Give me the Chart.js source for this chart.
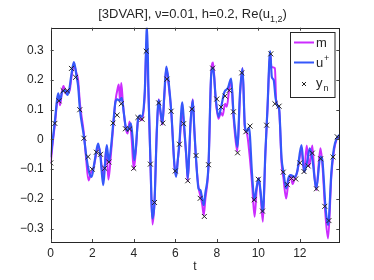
<!DOCTYPE html>
<html><head><meta charset="utf-8">
<script src="https://cdn.jsdelivr.net/npm/chart.js@4.4.1/dist/chart.umd.min.js"></script>
<style>html,body{margin:0;padding:0;background:#fff}#c{display:block}</style>
</head><body>
<canvas id="c" width="374" height="280"></canvas>
<script>
// u+ (analysis) samples
const tU=[0,0.1,0.2,0.3,0.36,0.45,0.55,0.7,0.8,0.9,1.0,1.12,1.25,1.32,1.41,1.6,1.73,1.85,1.97,2.1,2.22,2.29,2.4,2.53,2.62,2.7,2.8,2.9,3.02,3.12,3.21,3.32,3.42,3.52,3.61,3.7,3.86,3.95,4.02,4.1,4.21,4.3,4.4,4.53,4.64,4.71,4.8,4.9,5.0,5.11,5.2,5.3,5.38,5.47,5.57,5.7,5.81,5.96,6.04,6.12,6.2,6.34,6.42,6.54,6.6,6.67,6.73,6.84,6.92,6.99,7.12,7.21,7.3,7.37,7.45,7.6,7.73,7.82,7.95,8.08,8.21,8.37,8.53,8.69,8.8,8.9,8.99,9.12,9.24,9.35,9.44,9.55,9.7,9.81,9.92,10.02,10.1,10.22,10.34,10.44,10.57,10.65,10.74,10.83,10.95,11.0,11.12,11.21,11.34,11.45,11.55,11.76,11.87,12.08,12.21,12.35,12.48,12.62,12.79,12.99,13.07,13.24,13.36,13.52,13.64,13.77,13.9];
const uPlus=[-0.06,0.0,0.06,0.13,0.155,0.13,0.16,0.165,0.15,0.17,0.22,0.26,0.21,0.18,0.10,0.01,-0.064,-0.11,-0.126,-0.08,-0.03,-0.014,-0.06,-0.154,-0.08,-0.019,-0.075,-0.03,0.06,0.127,0.135,0.13,0.14,0.09,0.043,0.03,0.054,0.0,-0.07,-0.03,0.07,0.08,0.076,0.16,0.385,0.16,-0.064,-0.266,-0.21,0.026,0.132,0.09,0.054,0.15,0.245,0.18,0.091,-0.086,-0.126,-0.07,-0.008,0.125,0.054,-0.064,-0.131,-0.05,0.048,0.132,0.03,-0.053,-0.165,-0.171,-0.2,-0.221,-0.18,-0.086,0.217,0.241,0.138,0.076,0.11,0.16,0.172,0.205,0.093,0.02,-0.025,0.16,0.239,0.048,0.026,0.04,-0.12,-0.204,-0.16,-0.131,-0.17,-0.244,-0.042,0.104,0.297,0.21,0.2,0.14,0.11,0.104,-0.064,-0.109,-0.165,-0.13,-0.12,-0.126,-0.109,-0.019,-0.109,-0.075,-0.03,-0.075,-0.165,-0.058,-0.064,-0.232,-0.288,-0.109,-0.03,0.003,0.015];
// m (estimate) samples
const tM=[0,0.1,0.2,0.3,0.36,0.45,0.55,0.62,0.72,0.82,0.9,1.0,1.12,1.25,1.32,1.41,1.6,1.7,1.82,1.95,2.05,2.22,2.3,2.4,2.5,2.6,2.68,2.78,2.9,3.02,3.12,3.22,3.28,3.34,3.4,3.48,3.61,3.7,3.8,3.9,4.0,4.1,4.21,4.3,4.4,4.53,4.62,4.71,4.8,4.9,5.0,5.11,5.2,5.3,5.38,5.47,5.57,5.7,5.81,5.96,6.04,6.12,6.2,6.34,6.42,6.54,6.6,6.67,6.73,6.84,6.92,6.99,7.12,7.21,7.3,7.37,7.45,7.6,7.73,7.82,7.95,8.08,8.2,8.28,8.4,8.48,8.6,8.69,8.8,8.9,8.99,9.12,9.24,9.35,9.45,9.57,9.7,9.82,9.92,10.02,10.1,10.22,10.34,10.44,10.57,10.63,10.8,10.86,11.0,11.12,11.21,11.34,11.45,11.55,11.65,11.76,11.87,12.08,12.21,12.33,12.45,12.6,12.7,12.79,12.99,13.07,13.24,13.36,13.52,13.64,13.77,13.9];
const mVals=[-0.08,-0.01,0.05,0.12,0.15,0.115,0.165,0.18,0.155,0.165,0.16,0.21,0.25,0.22,0.2,0.12,0.02,-0.06,-0.138,-0.11,-0.1,-0.04,-0.025,-0.05,-0.12,-0.09,-0.03,-0.135,-0.05,0.05,0.13,0.17,0.185,0.13,0.19,0.12,0.04,0.02,0.06,0.0,-0.1,-0.04,0.065,0.07,0.065,0.15,0.33,0.15,-0.07,-0.286,-0.21,0.03,0.135,0.08,0.05,0.14,0.24,0.17,0.09,-0.09,-0.12,-0.07,-0.02,0.1,0.04,-0.07,-0.14,-0.05,0.05,0.135,0.03,-0.06,-0.16,-0.19,-0.22,-0.255,-0.2,-0.09,0.22,0.259,0.13,0.07,0.09,0.08,0.12,0.11,0.17,0.2,0.08,0.0,-0.04,0.15,0.24,0.04,0.02,-0.047,-0.15,-0.26,-0.17,-0.13,-0.18,-0.277,-0.05,0.1,0.29,0.244,0.24,0.13,0.1,-0.08,-0.13,-0.199,-0.14,-0.12,-0.15,-0.13,-0.11,-0.04,-0.11,-0.02,-0.09,-0.02,-0.12,-0.17,-0.03,-0.07,-0.26,-0.333,-0.12,-0.04,0.0,0.01];
// observations y_n
const tObs=[0,0.2,0.4,0.6,0.8,1.0,1.2,1.4,1.6,1.8,2.0,2.2,2.4,2.6,2.8,3.0,3.2,3.4,3.6,3.8,4.0,4.2,4.4,4.6,4.8,5.0,5.2,5.4,5.6,5.8,6.0,6.2,6.4,6.6,6.8,7.0,7.2,7.4,7.6,7.8,8.0,8.2,8.4,8.6,8.8,9.0,9.2,9.4,9.6,9.8,10.0,10.2,10.4,10.6,10.8,11.0,11.2,11.4,11.6,11.8,12.0,12.2,12.4,12.6,12.8,13.0,13.2,13.4,13.6,13.8];
const yObs=[-0.079,0.054,0.130,0.164,0.164,0.239,0.209,0.100,0.004,-0.058,-0.100,-0.043,-0.050,-0.097,-0.076,0.055,0.082,0.120,0.036,0.035,-0.097,0.074,0.068,0.297,-0.083,-0.212,0.123,0.055,0.203,0.095,-0.106,-0.016,0.053,-0.139,0.102,-0.054,-0.198,-0.259,-0.085,0.240,0.136,0.109,0.146,0.165,0.093,-0.045,0.224,0.026,0.045,-0.203,-0.134,-0.241,0.048,0.288,0.120,0.112,-0.110,-0.152,-0.131,-0.133,-0.079,-0.108,-0.089,-0.046,-0.166,-0.065,-0.225,-0.273,-0.059,0.009];
const xTicks=[0,2,4,6,8,10,12];
const yTicks=[-0.3,-0.2,-0.1,0,0.1,0.2,0.3];
const xRange=[0,13.9];
const yRange=[-0.345,0.376];

const FONT='"Liberation Sans", Arial, Helvetica, sans-serif';
const MAG='#cc2cff', BLU='#3557fa', AX='#262626';
const pts=(xs,ys)=>xs.map((x,i)=>({x:x,y:ys[i]}));
const fmt=v=>{if(Math.abs(v)<1e-9)return '0';return (v<0?'\u2212':'')+Math.abs(v).toFixed(1);};

const deco={
  id:'deco',
  afterDraw(chart){
    const ctx=chart.ctx, a=chart.chartArea, xs=chart.scales.x, ys=chart.scales.y;
    ctx.save();
    ctx.strokeStyle=AX; ctx.lineWidth=1;
    ctx.strokeRect(Math.round(a.left)+0.5,Math.round(a.top)+0.5,Math.round(a.right)-Math.round(a.left),Math.round(a.bottom)-Math.round(a.top));
    ctx.strokeStyle='#444'; ctx.beginPath();
    xTicks.forEach(v=>{const p=Math.round(xs.getPixelForValue(v))+0.5;
      ctx.moveTo(p,a.bottom);ctx.lineTo(p,a.bottom-3);ctx.moveTo(p,a.top);ctx.lineTo(p,a.top+3);});
    yTicks.forEach(v=>{const p=Math.round(ys.getPixelForValue(v))+0.5;
      ctx.moveTo(a.left,p);ctx.lineTo(a.left+3,p);ctx.moveTo(a.right,p);ctx.lineTo(a.right-3,p);});
    ctx.stroke();
    ctx.fillStyle=AX; ctx.font='12px '+FONT; ctx.textAlign='center'; ctx.textBaseline='alphabetic';
    ctx.fillText('t',(a.left+a.right)/2,270);
    const main='[3DVAR], \u03BD=0.01, h=0.2, Re(u', sub='1,2', end=')';
    ctx.textAlign='left';
    ctx.font='13px '+FONT; const w1=ctx.measureText(main).width, w3=ctx.measureText(end).width;
    ctx.font='9px '+FONT; const w2=ctx.measureText(sub).width;
    let x0=192.5-(w1+w2+w3)/2;
    ctx.font='13px '+FONT; ctx.fillText(main,x0,18);
    ctx.font='9px '+FONT; ctx.fillText(sub,x0+w1,22);
    ctx.font='13px '+FONT; ctx.fillText(end,x0+w1+w2,18);
    const L={l:290,t:32,r:334.5,b:97};
    ctx.fillStyle='#fff'; ctx.fillRect(L.l,L.t,L.r-L.l,L.b-L.t);
    ctx.strokeStyle=AX; ctx.lineWidth=1; ctx.strokeRect(L.l+0.5,L.t+0.5,L.r-L.l,L.b-L.t);
    ctx.lineWidth=2;
    ctx.strokeStyle=MAG; ctx.beginPath(); ctx.moveTo(294,42.5); ctx.lineTo(314,42.5); ctx.stroke();
    ctx.strokeStyle=BLU; ctx.beginPath(); ctx.moveTo(294,62.5); ctx.lineTo(314,62.5); ctx.stroke();
    ctx.strokeStyle='#222'; ctx.lineWidth=1; ctx.beginPath();
    ctx.moveTo(302,82);ctx.lineTo(306,86);ctx.moveTo(306,82);ctx.lineTo(302,86); ctx.stroke();
    ctx.fillStyle=AX; ctx.font='13px '+FONT;
    ctx.fillText('m',316,47);
    ctx.fillText('u',316,67);
    ctx.fillText('y',316,87);
    ctx.font='9px '+FONT;
    ctx.fillText('+',324,61);
    ctx.fillText('n',323.5,91);
    ctx.restore();
  }
};

new Chart(document.getElementById('c'),{
  type:'line',
  data:{datasets:[
    {label:'y_n',data:pts(tObs,yObs),showLine:false,pointStyle:'crossRot',pointRadius:3.5,pointBorderColor:'#222',pointBorderWidth:1,borderColor:'#222',order:0},
    {label:'u+',data:pts(tU,uPlus),borderColor:BLU,borderWidth:2.2,pointRadius:0,cubicInterpolationMode:'monotone',order:1},
    {label:'m',data:pts(tM,mVals),borderColor:MAG,borderWidth:2,pointRadius:0,cubicInterpolationMode:'monotone',order:2}
  ]},
  options:{
    responsive:false,animation:false,devicePixelRatio:1,
    layout:{padding:{top:27.7,right:34.7,left:0,bottom:0}},
    plugins:{legend:{display:false},tooltip:{enabled:false},title:{display:false}},
    scales:{
      x:{type:'linear',min:xRange[0],max:xRange[1],
        afterBuildTicks:s=>{s.ticks=xTicks.map(v=>({value:v}));},
        afterFit:s=>{s.height=38;},
        grid:{display:false,drawTicks:false},border:{display:false},
        ticks:{font:{family:FONT,size:12},color:AX,padding:4,maxRotation:0,autoSkip:false,callback:v=>String(v)}},
      y:{type:'linear',min:yRange[0],max:yRange[1],
        afterBuildTicks:s=>{s.ticks=yTicks.map(v=>({value:v}));},
        afterFit:s=>{s.width=50.7;},
        grid:{display:false,drawTicks:false},border:{display:false},
        ticks:{font:{family:FONT,size:12},color:AX,padding:7,autoSkip:false,callback:v=>fmt(v)}}
    }
  },
  plugins:[deco]
});
</script>
</body></html>
